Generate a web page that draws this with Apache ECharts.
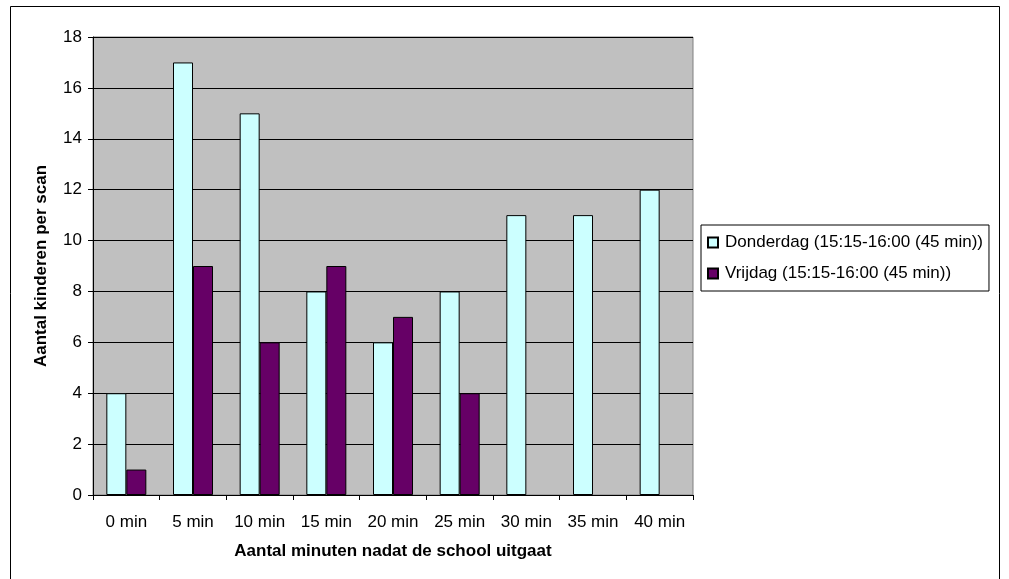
<!DOCTYPE html>
<html>
<head>
<meta charset="utf-8">
<script src="https://cdn.jsdelivr.net/npm/echarts@6/dist/echarts.min.js"></script>
<style>
html,body{margin:0;padding:0;background:#fff;}
#c{width:1009px;height:579px;}
</style>
</head>
<body>
<div id="c"></div>
<script>
const categories = ['0 min','5 min','10 min','15 min','20 min','25 min','30 min','35 min','40 min'];
const donderdag = [4,17,15,8,6,8,11,11,12];
const vrijdag = [1,9,6,9,7,4,null,null,null];
const seriesNames = ['Donderdag (15:15-16:00 (45 min))','Vrijdag (15:15-16:00 (45 min))'];
const xTitle = 'Aantal minuten nadat de school uitgaat';
const yTitle = 'Aantal kinderen per scan';

const FONT = "'Liberation Sans', Arial, sans-serif";
const chart = echarts.init(document.getElementById('c'), null, {renderer:'canvas'});
chart.setOption({
  animation:false,
  backgroundColor:'#fff',
  textStyle:{fontFamily:FONT},
  graphic:[{
    type:'rect', z:-10, silent:true,
    shape:{x:10.5, y:6.5, width:989, height:600},
    style:{fill:'none', stroke:'#000', lineWidth:1}
  }],
  grid:{left:93, right:316, top:37, bottom:84, show:true, backgroundColor:'#C0C0C0', borderColor:'#808080', borderWidth:1},
  legend:{
    orient:'vertical', left:701, top:225,
    borderColor:'#000', borderWidth:1, padding:[9,6,9,6],
    itemGap:14, itemWidth:10, itemHeight:10, icon:'rect',
    textStyle:{fontFamily:FONT, fontSize:17, color:'#000', padding:[0,0,0,2]},
    data:seriesNames
  },
  xAxis:{
    type:'category', data:categories,
    name:xTitle, nameLocation:'middle', nameGap:48,
    nameTextStyle:{fontFamily:FONT, fontSize:17, fontWeight:'bold', color:'#000'},
    axisLine:{lineStyle:{color:'#000'}},
    axisTick:{show:true, length:5, alignWithLabel:false, lineStyle:{color:'#000'}},
    axisLabel:{fontFamily:FONT, fontSize:17, color:'#000', margin:19},
    splitLine:{show:false}
  },
  yAxis:{
    type:'value', min:0, max:18, interval:2,
    name:yTitle, nameLocation:'middle', nameGap:43,
    nameTextStyle:{fontFamily:FONT, fontSize:17, fontWeight:'bold', color:'#000'},
    axisLine:{show:true, lineStyle:{color:'#000'}},
    axisTick:{show:true, length:5, lineStyle:{color:'#000'}},
    axisLabel:{fontFamily:FONT, fontSize:17, color:'#000', margin:11},
    splitLine:{show:true, lineStyle:{color:'#000', width:1}}
  },
  series:[
    {name:seriesNames[0], type:'bar', data:donderdag, barWidth:20, barGap:'0%',
     itemStyle:{color:'#CCFFFF', borderColor:'#000', borderWidth:1}},
    {name:seriesNames[1], type:'bar', data:vrijdag, barWidth:20, barGap:'0%',
     itemStyle:{color:'#660066', borderColor:'#000', borderWidth:1}}
  ]
});
</script>
</body>
</html>
